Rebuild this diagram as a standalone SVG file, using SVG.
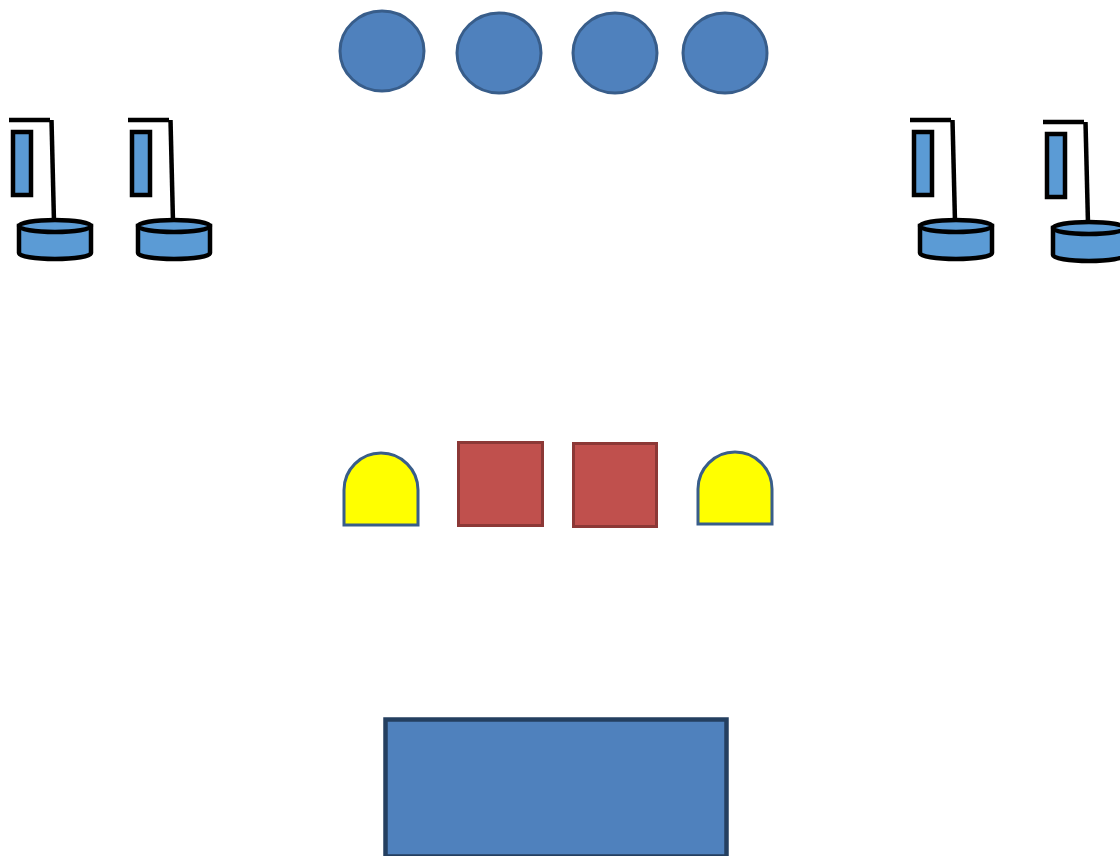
<svg xmlns="http://www.w3.org/2000/svg" xmlns:xlink="http://www.w3.org/1999/xlink" width="1120" height="856" viewBox="0 0 1120 856">
<style>
.blk{stroke:#000;stroke-width:4.5;fill:none}
.lampbody{fill:#5B9BD5;stroke:#000;stroke-width:4.5}
.ball{fill:#4F81BD;stroke:#385D8A;stroke-width:3}
.arch{fill:#FFFF00;stroke:#385D8A;stroke-width:3}
.sq{fill:#C0504D;stroke:#8C3836;stroke-width:3}
.big{fill:#4F81BD;stroke:#243F60;stroke-width:4.5}
</style>
<defs>
<g id="lamp">
<line class="blk" x1="9" y1="120" x2="50" y2="120"/>
<line class="blk" x1="51.5" y1="120" x2="54" y2="222"/>
<rect class="lampbody" x="13" y="132" width="18" height="63"/>
<path class="lampbody" d="M19,226 L19,253 A36,6 0 0 0 91,253 L91,226 Z"/>
<ellipse class="lampbody" cx="55" cy="226" rx="36" ry="6"/>
</g>
</defs>
<rect width="1120" height="856" fill="#fff"/>
<g id="lamp1"><use xlink:href="#lamp"/></g>
<g id="lamp2"><use xlink:href="#lamp" transform="translate(119,0)"/></g>
<g id="lamp3"><use xlink:href="#lamp" transform="translate(901,0)"/></g>
<g id="lamp4"><use xlink:href="#lamp" transform="translate(1034,2)"/></g>
<g id="ball1"><ellipse class="ball" cx="382" cy="51" rx="42" ry="40"/></g>
<g id="ball2"><ellipse class="ball" cx="499" cy="53" rx="42" ry="40"/></g>
<g id="ball3"><ellipse class="ball" cx="615" cy="53" rx="42" ry="40"/></g>
<g id="ball4"><ellipse class="ball" cx="725" cy="53" rx="42" ry="40"/></g>
<g id="arch1"><path class="arch" d="M344,525 L344,490 A37,37 0 0 1 418,490 L418,525 Z"/></g>
<g id="sq1"><rect class="sq" x="458.5" y="442.5" width="84" height="83"/></g>
<g id="sq2"><rect class="sq" x="573.5" y="443.5" width="83" height="83"/></g>
<g id="arch2"><path class="arch" d="M698,524 L698,489 A37,37 0 0 1 772,489 L772,524 Z"/></g>
<g id="base"><rect class="big" x="385.5" y="719.5" width="341" height="137"/></g>
<g id="connectors"></g>
</svg>
